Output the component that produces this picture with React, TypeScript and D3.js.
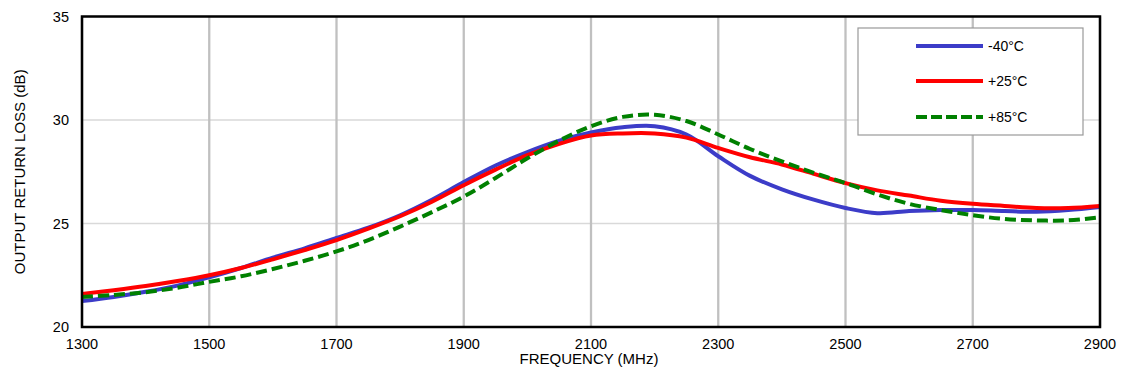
import React from "react";
import * as d3 from "d3";

const freqs = [1300,1350,1400,1450,1500,1550,1600,1650,1700,1750,1800,1850,1900,1950,2000,2050,2100,2150,2200,2250,2300,2350,2400,2450,2500,2550,2600,2650,2700,2750,2800,2850,2900];
const blueVals = [21.25,21.45,21.7,22.0,22.4,22.85,23.35,23.8,24.3,24.8,25.4,26.15,27.0,27.8,28.45,29.0,29.4,29.65,29.7,29.3,28.25,27.3,26.65,26.15,25.75,25.5,25.6,25.65,25.65,25.6,25.57,25.65,25.8];
const redVals = [21.6,21.78,21.98,22.22,22.5,22.85,23.27,23.72,24.2,24.75,25.35,26.05,26.85,27.6,28.3,28.85,29.25,29.35,29.35,29.15,28.65,28.2,27.85,27.4,26.95,26.6,26.35,26.1,25.95,25.85,25.75,25.75,25.85];
const greenVals = [21.45,21.55,21.68,21.9,22.18,22.45,22.8,23.2,23.65,24.2,24.85,25.55,26.3,27.2,28.15,29.0,29.7,30.15,30.25,29.95,29.3,28.6,28.0,27.45,26.95,26.4,25.95,25.65,25.4,25.22,25.15,25.15,25.3];
const xTicks = [1300,1500,1700,1900,2100,2300,2500,2700,2900];
const yTicks = [20,25,30,35];
const seriesNames = ["-40°C","+25°C","+85°C"];
const seriesColors = ["#3c3cc8","#ff0000","#008000"];

const W = 1124, H = 376;
const L = 82, R = 1100, T = 16.5, B = 327;

export default function App() {
  const x = d3.scaleLinear().domain([1300, 2900]).range([L, R]);
  const y = d3.scaleLinear().domain([20, 35]).range([B, T]);
  const line = d3.line<[number, number]>()
    .x(d => x(d[0]))
    .y(d => y(d[1]))
    .curve(d3.curveCatmullRom.alpha(0.5));
  const all = [blueVals, redVals, greenVals].map(vals => freqs.map((f, i) => [f, vals[i]] as [number, number]));
  const font = "'Liberation Sans', Arial, sans-serif";
  const legendY = [46, 81, 117];
  return (
    <svg width={W} height={H} style={{ position: "absolute", left: 0, top: 0 }} fontFamily={font}>
      <rect x={0} y={0} width={W} height={H} fill="#fff" />
      {yTicks.map(t => (
        <line key={"h" + t} x1={L} x2={R} y1={y(t)} y2={y(t)} stroke="#d9d9d9" strokeWidth={1.5} />
      ))}
      {xTicks.map(t => (
        <line key={"v" + t} x1={x(t)} x2={x(t)} y1={T} y2={B} stroke="#c0c0c0" strokeWidth={2.3} />
      ))}
      <rect x={858} y={28} width={225} height={107} fill="#fff" stroke="#999" strokeWidth={1.2} />
      {all.map((d, i) => (
        <path key={"s" + i} d={line(d) || ""} fill="none" stroke={seriesColors[i]} strokeWidth={4}
          strokeDasharray={i === 2 ? "11 5" : undefined} strokeLinejoin="round" />
      ))}
      {seriesNames.map((n, i) => (
        <g key={"l" + i}>
          <line x1={916} x2={983} y1={legendY[i]} y2={legendY[i]} stroke={seriesColors[i]} strokeWidth={4}
            strokeDasharray={i === 2 ? "11 4" : undefined} />
          <text x={988} y={legendY[i] + 5} fontSize={14} fill="#000">{n}</text>
        </g>
      ))}
      <rect x={L} y={T} width={R - L} height={B - T} fill="none" stroke="#000" strokeWidth={2.5} />
      {yTicks.map(t => (
        <text key={"yt" + t} x={69} y={y(t) + 5} fontSize={14.5} textAnchor="end" fill="#000">{t}</text>
      ))}
      {xTicks.map(t => (
        <text key={"xt" + t} x={x(t)} y={349} fontSize={14.5} textAnchor="middle" fill="#000">{t}</text>
      ))}
      <text x={589} y={364} fontSize={15} textAnchor="middle" fill="#000">FREQUENCY (MHz)</text>
      <text transform={`translate(25,${(T + B) / 2}) rotate(-90)`} fontSize={15} textAnchor="middle" fill="#000">OUTPUT RETURN LOSS (dB)</text>
    </svg>
  );
}
